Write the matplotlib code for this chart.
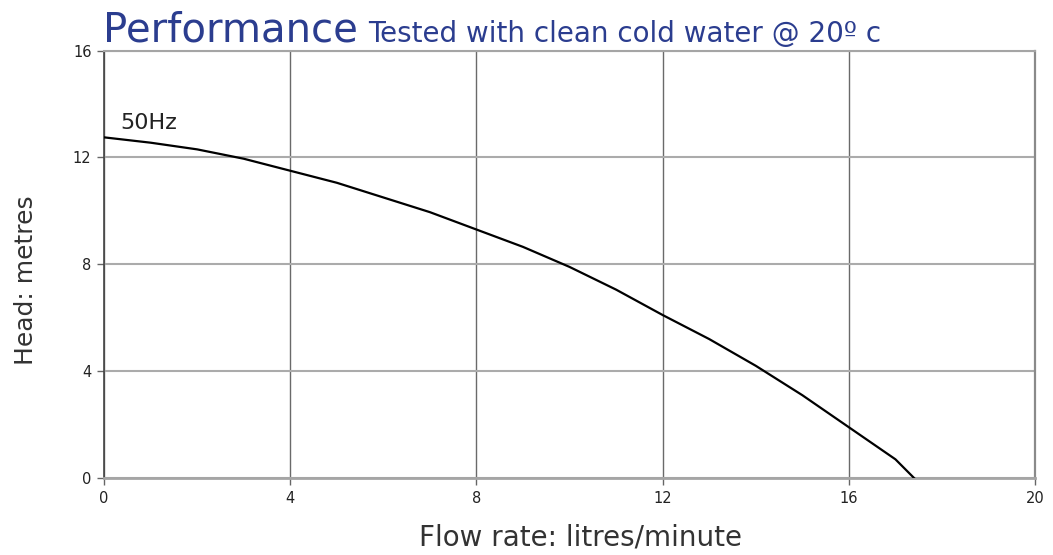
import matplotlib
matplotlib.use("Agg")
import matplotlib.pyplot as plt

# Pump curve (50Hz)
flow = [0, 1, 2, 3, 4, 5, 6, 7, 8, 9, 10, 11, 12, 13, 14, 15, 16, 17, 17.4]
head = [12.75, 12.55, 12.3, 11.95, 11.5, 11.05, 10.5, 9.95, 9.3, 8.65,
        7.9, 7.05, 6.1, 5.2, 4.2, 3.1, 1.9, 0.7, 0.0]
xticks = [0, 4, 8, 12, 16, 20]
yticks = [0, 4, 8, 12, 16]

fig = plt.figure(figsize=(10.53, 5.55), dpi=100)
ax = fig.add_axes([0.0988, 0.1387, 0.8842, 0.7703])

ax.plot(flow, head, color="black", lw=1.6, zorder=3)

ax.set_xlim(0, 20)
ax.set_ylim(0, 16)
ax.set_xticks(xticks)
ax.set_yticks(yticks)
ax.xaxis.grid(True, color="#6a6a6a", lw=1.0)
ax.yaxis.grid(True, color="#ababab", lw=1.5)
ax.tick_params(length=5, width=1, color="#666666", labelsize=10.5,
               labelcolor="#222222", pad=4)

ax.spines["top"].set_color("#a5a5a5")
ax.spines["top"].set_linewidth(1.5)
ax.spines["right"].set_color("#8a8a8a")
ax.spines["right"].set_linewidth(1.6)
ax.spines["bottom"].set_color("#a5a5a5")
ax.spines["bottom"].set_linewidth(2)
ax.spines["left"].set_color("#444444")
ax.spines["left"].set_linewidth(1.2)

ax.text(0.35, 13.08, "50Hz", fontsize=16, color="#222222", va="baseline")

ax.set_xlabel("Flow rate: litres/minute", fontsize=20, color="#333333")
ax.xaxis.label.set_va("baseline")
ax.xaxis.set_label_coords(0.512, -0.158)
ax.set_ylabel("Head: metres", fontsize=18, color="#333333")
ax.yaxis.label.set_va("center")
ax.yaxis.set_label_coords(-0.084, 0.462)

fig.text(0.098, 0.925, "Performance", fontsize=29, color="#2b3d8f",
         ha="left", va="baseline")
fig.text(0.35, 0.925, "Tested with clean cold water @ 20\u00ba c", fontsize=20,
         color="#2b3d8f", ha="left", va="baseline")

fig.savefig("out.png", dpi=100)
